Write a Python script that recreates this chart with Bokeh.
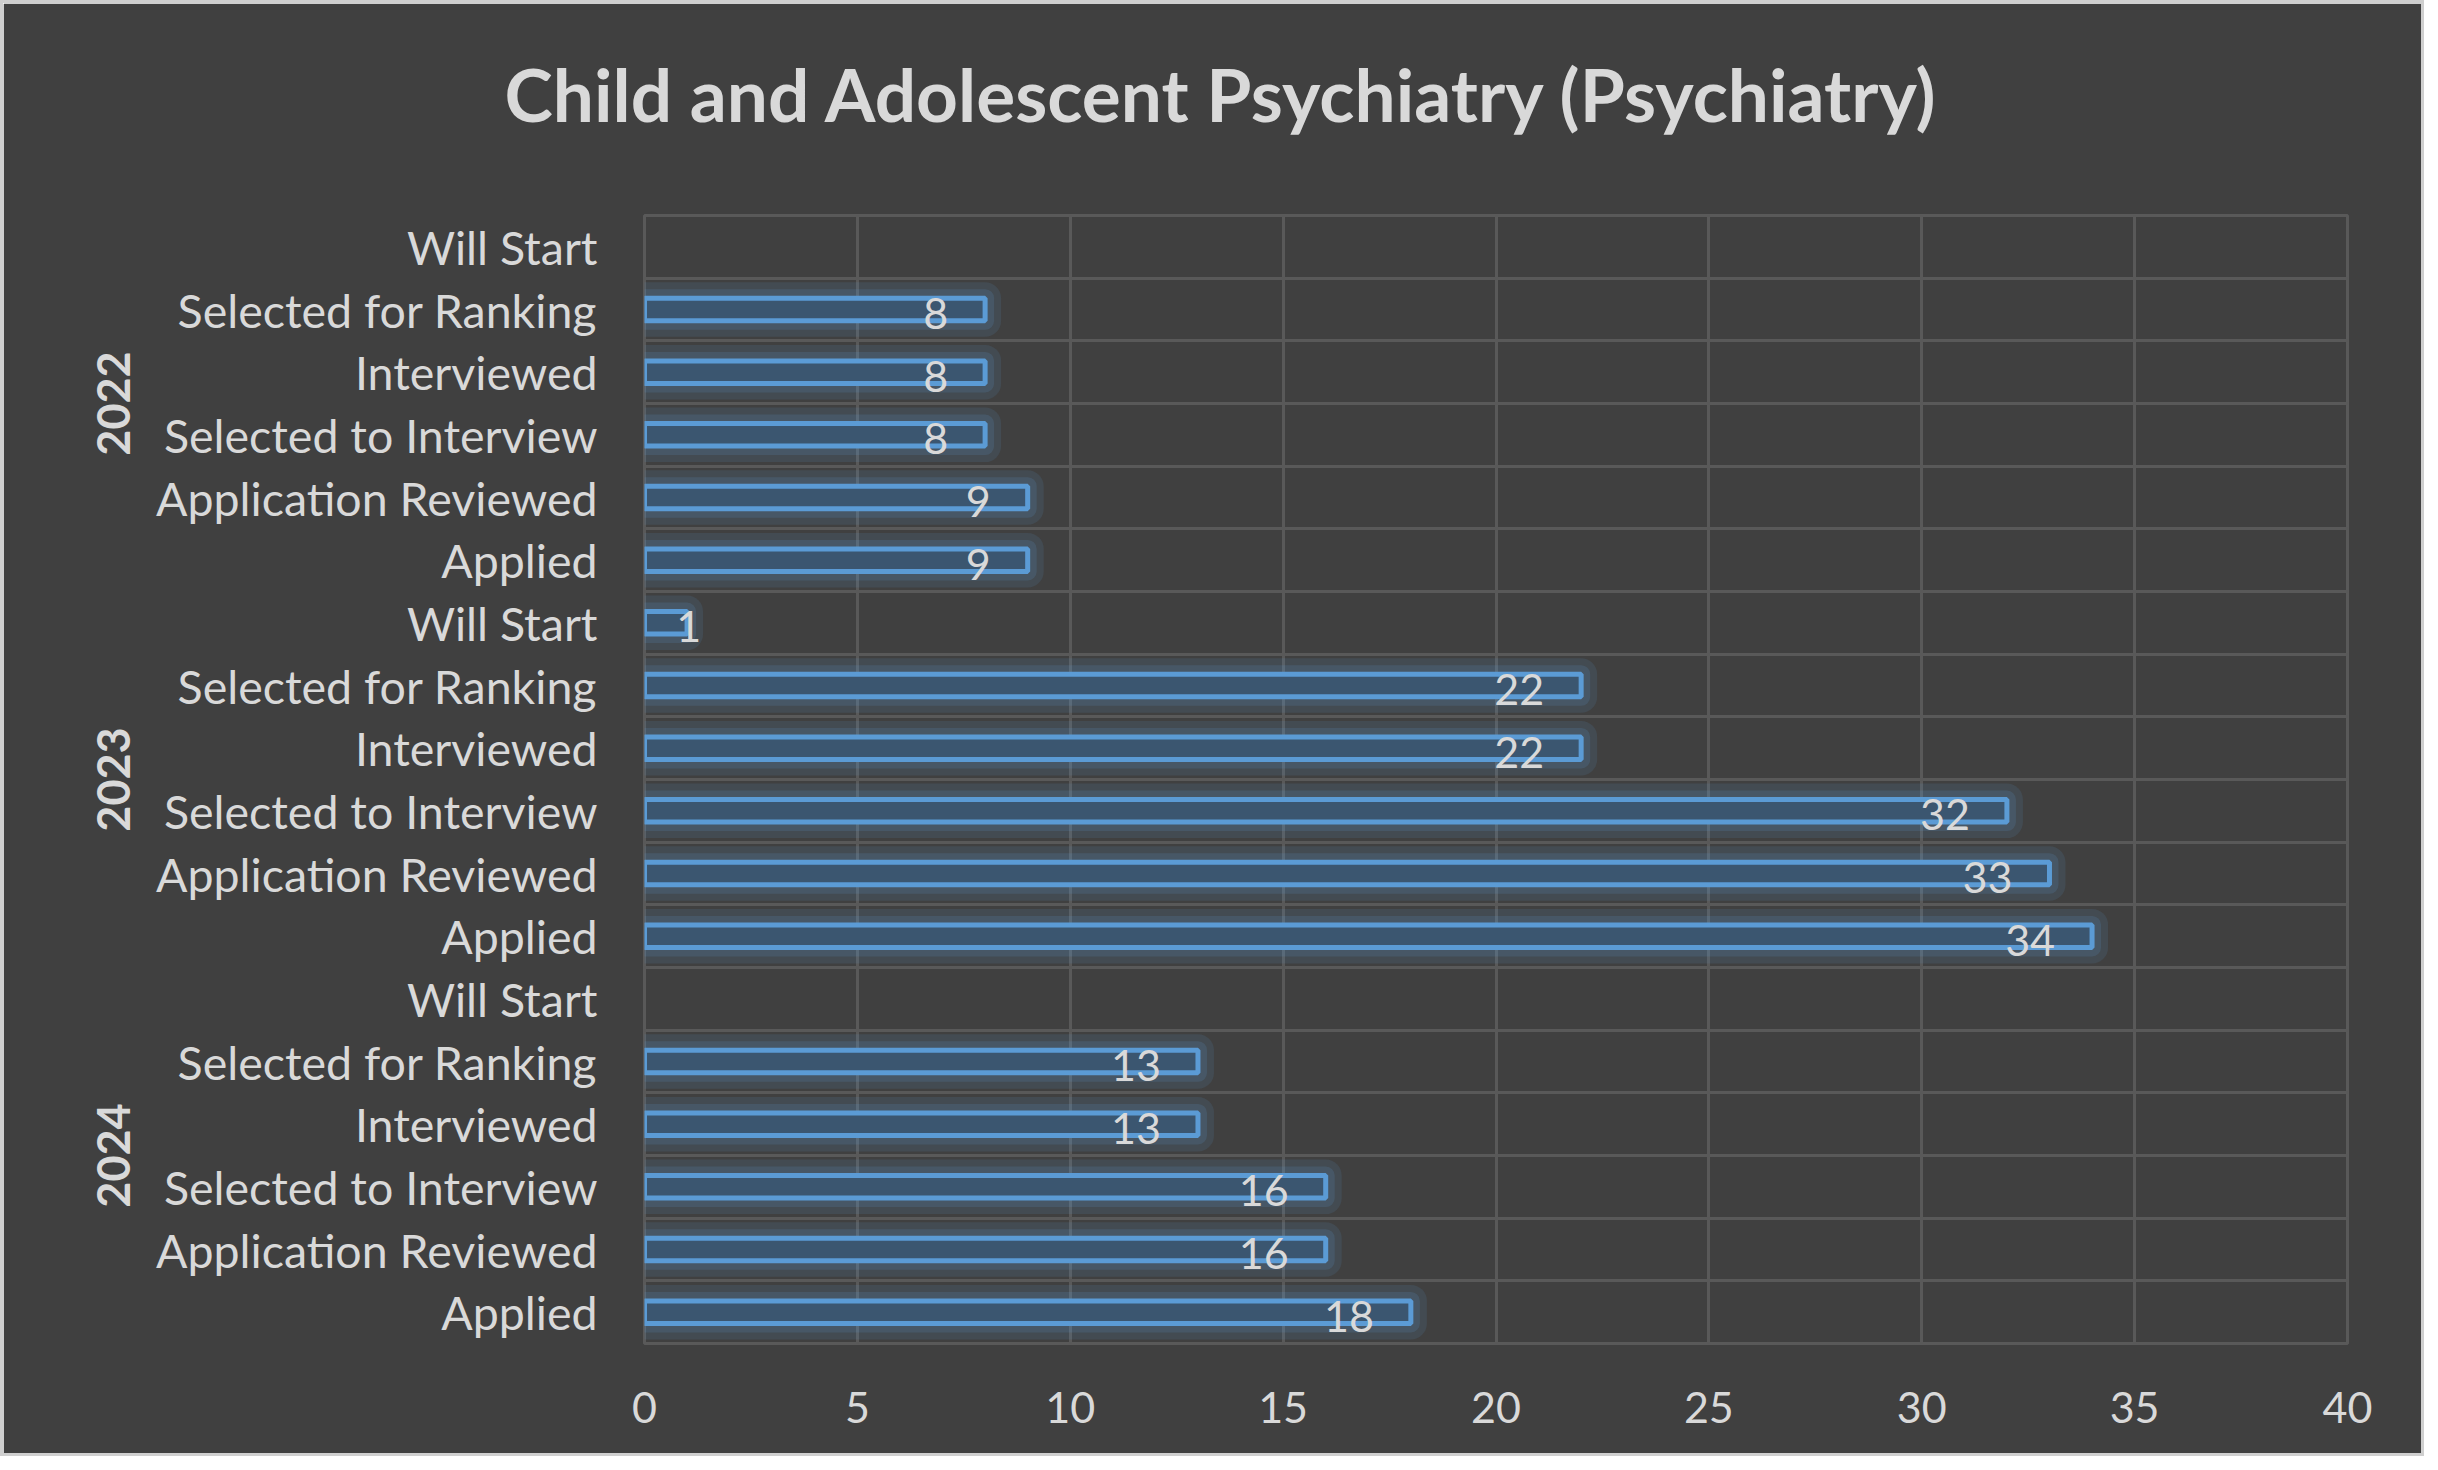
import numpy as np
from bokeh.plotting import figure
from bokeh.models import ColumnDataSource, FixedTicker, LinearAxis, Range1d, Title
from bokeh.embed import file_html
from bokeh.resources import INLINE
from bokeh.core.properties import value

# ---------------- data ----------------
title_text = "Child and Adolescent Psychiatry (Psychiatry)"
years = ["2024", "2023", "2022"]                       # bottom -> top
stages = ["Applied", "Application Reviewed", "Selected to Interview",
          "Interviewed", "Selected for Ranking", "Will Start"]  # bottom -> top within a year
values_2024 = [18, 16, 16, 13, 13, None]
values_2023 = [34, 33, 32, 22, 22, 1]
values_2022 = [9, 9, 8, 8, 8, None]
x_ticks = [0, 5, 10, 15, 20, 25, 30, 35, 40]

# ---------------- style ----------------
BG = "#404040"
GRID = "#595959"
TXT = "#d9d9d9"
BLUE = "#5b9bd5"
FONT = "Lato"

series = {"2024": values_2024, "2023": values_2023, "2022": values_2022}
n_st = len(stages)
ys, vals = [], []
for gi, yr in enumerate(years):
    for si, st in enumerate(stages):
        ys.append(gi * n_st + si + 0.5)
        v = series[yr][si]
        vals.append(np.nan if v is None else float(v))
ys = np.array(ys)
vals = np.array(vals)
has = ~np.isnan(vals)
src = ColumnDataSource(dict(y=ys[has], v=vals[has],
                            lx=np.maximum(vals[has], 2.2),
                            t=[str(int(v)) for v in vals[has]]))

n_rows = len(years) * n_st
W, H = 2424, 1456
p = figure(width=W, height=H, x_range=Range1d(0, x_ticks[-1]), y_range=Range1d(0, n_rows),
           output_backend="svg", toolbar_location=None,
           min_border_left=641, min_border_right=80, min_border_top=212, min_border_bottom=116,
           background_fill_color=BG, border_fill_color=BG,
           outline_line_color=GRID, outline_line_width=3,
           styles={"border": "3px solid #cfcfcf"})
p.title = None

# grids
p.xgrid.ticker = FixedTicker(ticks=x_ticks)
p.ygrid.ticker = FixedTicker(ticks=list(range(0, n_rows + 1)))
for g in (p.xgrid, p.ygrid):
    g.grid_line_color = GRID
    g.grid_line_width = 3

# glow layers + bars
p.hbar(y="y", left=0, right="v", height=0.36, source=src,
       fill_color=BLUE, fill_alpha=0.12, line_color=BLUE, line_alpha=0.12,
       line_width=32, line_join="round")
p.hbar(y="y", left=0, right="v", height=0.36, source=src,
       fill_color=BLUE, fill_alpha=0.12, line_color=BLUE, line_alpha=0.16,
       line_width=18, line_join="round")
p.hbar(y="y", left=0, right="v", height=0.36, source=src,
       fill_color="#3b5670", line_color=BLUE, line_width=5)

# value labels
p.text(x="lx", y="y", text="t", source=src, text_align="right", text_baseline="middle",
       x_offset=-37, y_offset=4, text_font=value(FONT), text_font_size="43px",
       text_color=TXT)

# x axis
xa = p.xaxis[0]
xa.ticker = FixedTicker(ticks=x_ticks)
xa.axis_line_color = None
xa.major_tick_line_color = None
xa.minor_tick_line_color = None
xa.major_label_standoff = 42
xa.major_label_text_font = FONT
xa.major_label_text_font_size = "43px"
xa.major_label_text_color = TXT

# stage axis
ya = p.yaxis[0]
ya.ticker = FixedTicker(ticks=list(ys))
ya.major_label_overrides = {float(y): stages[i % n_st] for i, y in enumerate(ys)}
ya.axis_line_color = None
ya.major_tick_line_color = None
ya.minor_tick_line_color = None
ya.major_label_standoff = 41
ya.major_label_text_font = FONT
ya.major_label_text_font_size = "46.5px"
ya.major_label_text_color = TXT

# year axis
year_centers = [gi * n_st + n_st / 2 for gi in range(len(years))]
yy = LinearAxis(ticker=FixedTicker(ticks=year_centers),
                major_label_overrides={int(c): years[i] for i, c in enumerate(year_centers)},
                major_label_orientation="parallel",
                axis_line_color=None, major_tick_line_color=None, minor_tick_line_color=None,
                major_label_standoff=18, major_label_text_font=FONT,
                major_label_text_font_style="bold", major_label_text_font_size="45px",
                major_label_text_color=TXT)
p.add_layout(yy, "left")

# title: a small spacer next to the frame, then the title itself
spacer = Title(text=" ", text_font_size="10px", standoff=20)
main_title = Title(text=title_text, text_font=FONT, text_font_style="bold",
                   text_font_size="73px", text_color=TXT, align="left", offset=-140,
                   vertical_align="top", standoff=86)
p.add_layout(spacer, "above")
p.add_layout(main_title, "above")

html = file_html(p, INLINE)
html = html.replace("<body>", '<body style="background-color:#13263e;">', 1)
open("out.html", "w").write(html)
